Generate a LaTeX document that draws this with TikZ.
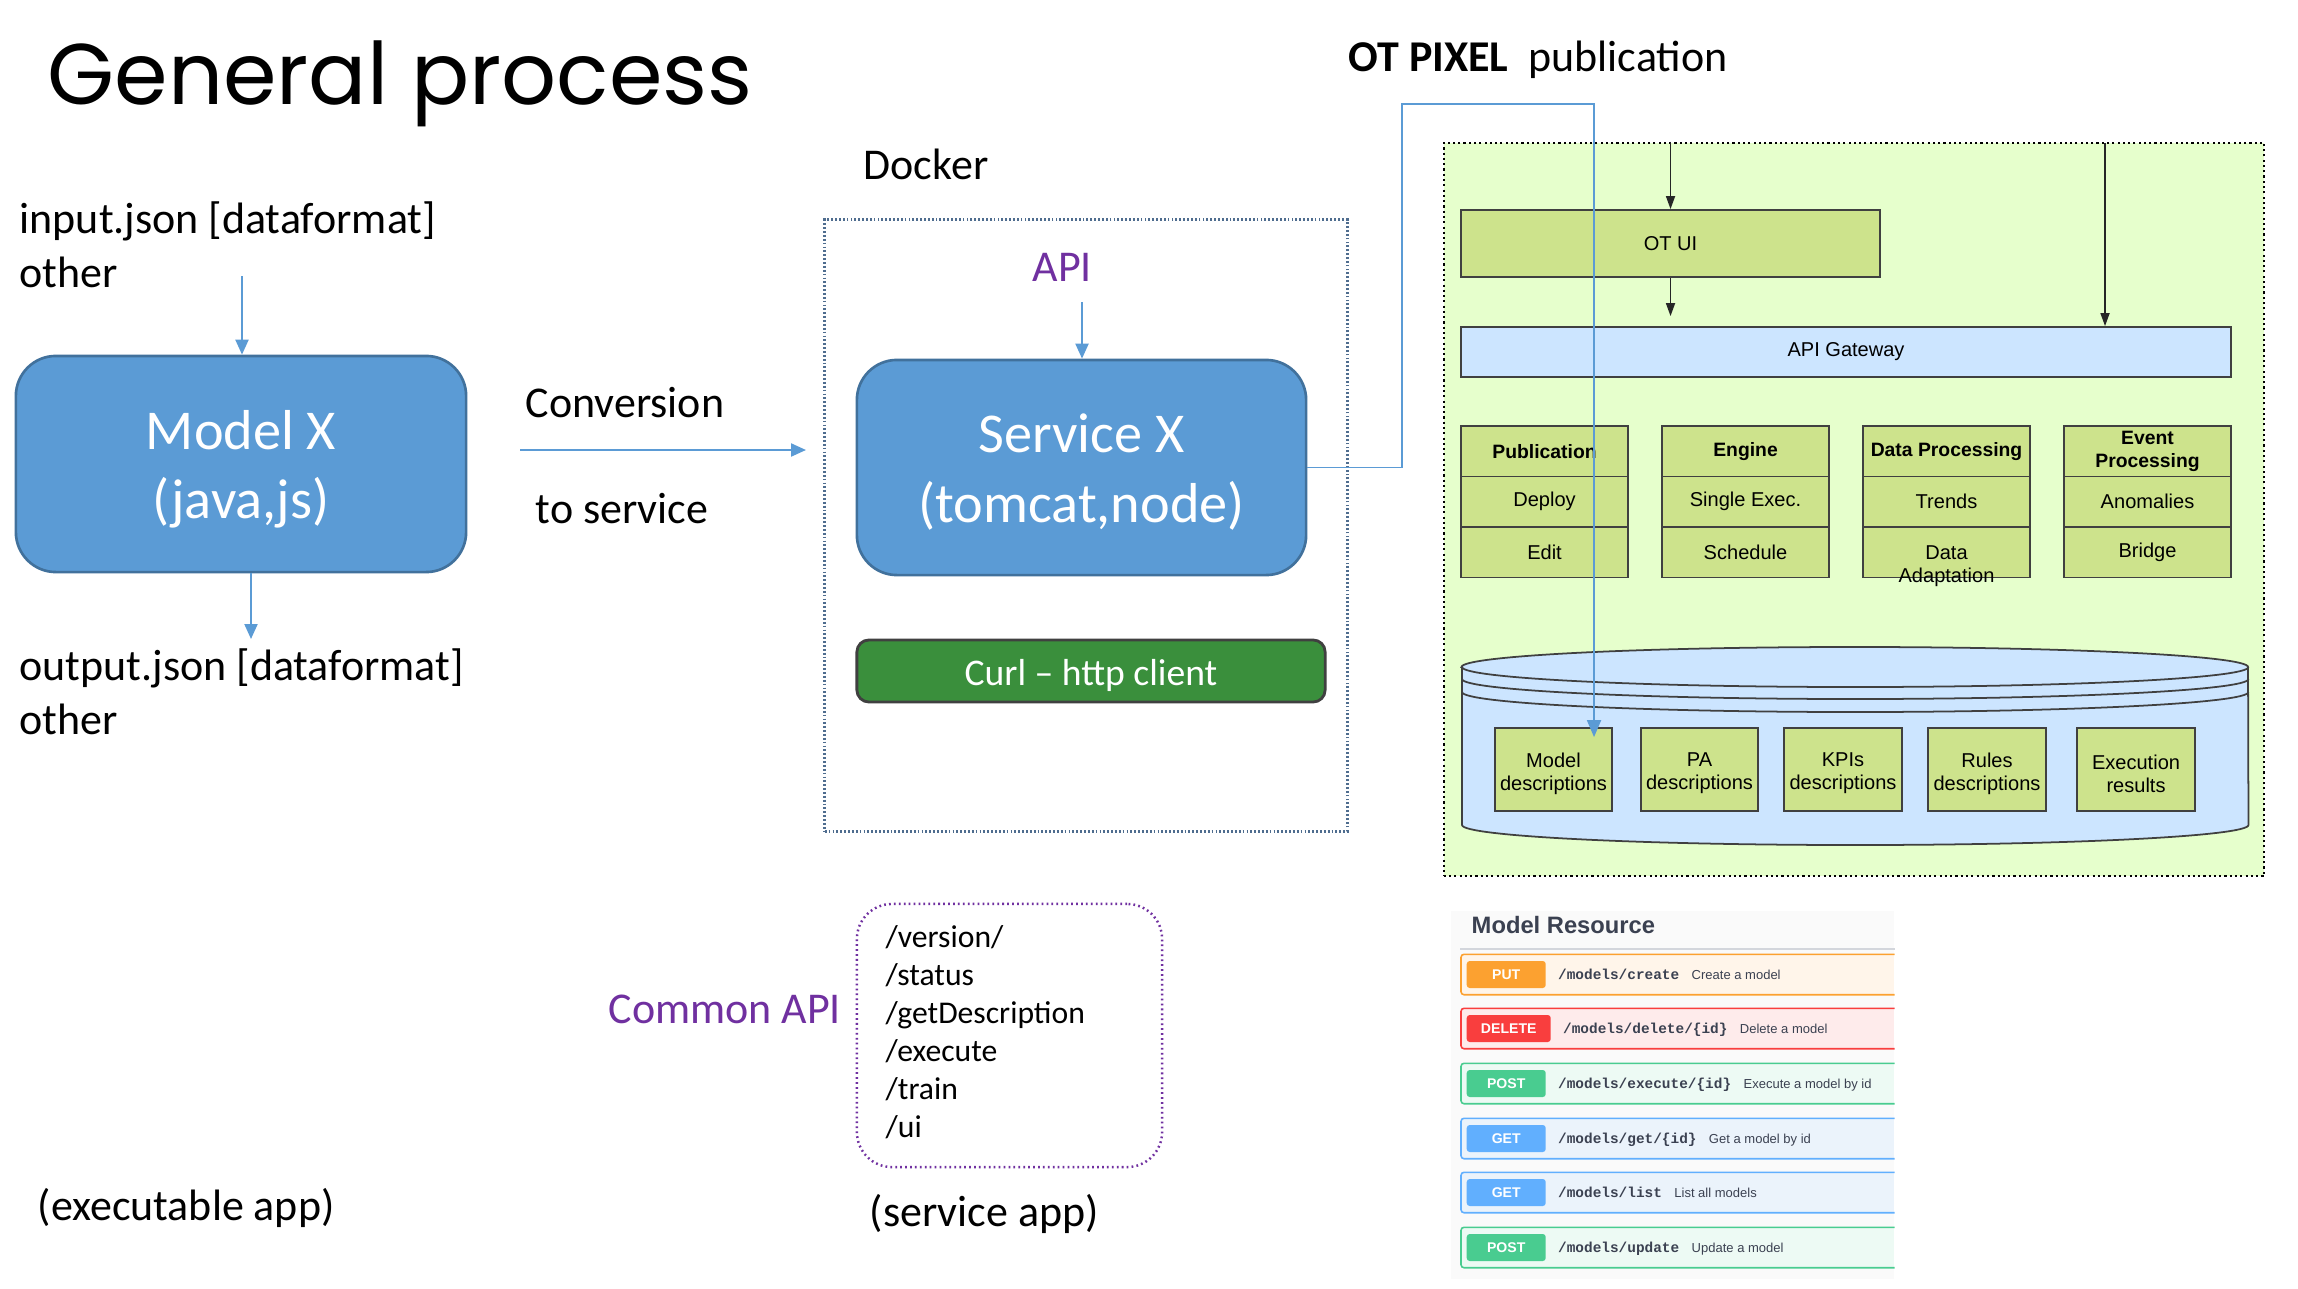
\documentclass[tikz,border=0pt]{standalone}
\usepackage{fontspec}
\setmainfont{Carlito}
\newfontfamily\titlefont{Poppins}
\newfontfamily\arialf{Liberation Sans}
\newfontfamily\monof{Liberation Mono}
\usetikzlibrary{arrows.meta,calc}

\definecolor{boxblue}{HTML}{5B9BD5}
\definecolor{boxedge}{HTML}{41719C}
\definecolor{arrblue}{HTML}{5B9BD5}
\definecolor{purp}{HTML}{7030A0}
\definecolor{curlg}{HTML}{3A8F3C}
\definecolor{dockedge}{HTML}{4F6D8F}
\definecolor{panelg}{HTML}{E6FFCC}
\definecolor{modg}{HTML}{CDE38C}
\definecolor{lblue}{HTML}{CCE5FF}
\definecolor{gline}{HTML}{404040}
\definecolor{swtext}{HTML}{3B4151}
\definecolor{swpanel}{HTML}{FAFAFA}
\definecolor{swline}{HTML}{D3D6DC}
\definecolor{swput}{HTML}{FCA130}
\definecolor{swputbg}{HTML}{FFF5EA}
\definecolor{swdel}{HTML}{F93E3E}
\definecolor{swdelbg}{HTML}{FEEBEB}
\definecolor{swpost}{HTML}{49CC90}
\definecolor{swpostbg}{HTML}{EDFAF4}
\definecolor{swget}{HTML}{61AFFE}
\definecolor{swgetbg}{HTML}{EBF3FB}

\newcommand{\fsMid}{\fontsize{12.5pt}{15.4pt}\selectfont}
\newcommand{\fsBig}{\fontsize{16pt}{19.7pt}\selectfont}
\newcommand{\fsCurl}{\fontsize{10.7pt}{13pt}\selectfont}
\newcommand{\fsList}{\fontsize{9pt}{10.8pt}\selectfont}
\newcommand{\fsSm}{\fontsize{5.7pt}{6.55pt}\selectfont}
\newcommand{\fsSmB}{\fontsize{5.5pt}{6.55pt}\selectfont}
\newcommand{\fsMR}{\fontsize{6.75pt}{8pt}\selectfont}
\newcommand{\fsBadge}{\fontsize{4pt}{5pt}\selectfont}
\newcommand{\fsPath}{\fontsize{4.1pt}{5pt}\selectfont}
\newcommand{\fsDesc}{\fontsize{3.7pt}{4.5pt}\selectfont}
\newcommand{\fsTitle}{\fontsize{24.5pt}{30pt}\selectfont}

% name, y, method, colour, bg colour, path, description, badge width (px)
\newcommand{\swrow}[8]{%
  \node[fill=#5, minimum width=4.32cm, minimum height=0.39cm, inner sep=0pt, anchor=west] (#1) at (1461,#2) {};
  \draw[#4, line width=0.45pt, rounded corners=0.03cm] (#1.north east) -- (#1.north west) -- (#1.south west) -- (#1.south east);
  \node[fill=#4, rounded corners=0.03cm, minimum width=#8*0.01cm, minimum height=0.27cm, inner sep=0pt, text=white, font=\arialf\bfseries\fsBadge, anchor=west] (#1b) at (1466,#2) {#3};
  \node[anchor=base west, inner sep=0pt, font=\monof\bfseries\fsPath, text=swtext] (#1p) at ([xshift=0.11cm,yshift=-0.045cm]#1b.west -| #1b.east) {#6};
  \node[anchor=base west, inner sep=0pt, font=\arialf\fsDesc, text=swtext] (#1d) at ([xshift=0.11cm]#1p.base east) {#7};
}

\begin{document}
\begin{tikzpicture}[x=0.01cm, y=-0.01cm,
  txt/.style={inner sep=0pt, anchor=base west, font=\fsMid, yshift=-0.04cm},
  bluebox/.style={draw=boxedge, line width=0.75pt, fill=boxblue, rounded corners=0.4cm, inner sep=0pt},
  boxtext/.style={inner sep=0pt, text=white, font=\fsBig, align=center},
  barrow/.style={draw=arrblue, line width=0.6pt, -{Triangle[length=0.15cm,width=0.13cm]}},
  karrow/.style={draw=black!85, line width=0.45pt, -{Triangle[length=0.13cm,width=0.09cm]}},
  modcell/.style={draw=gline, line width=0.5pt, fill=modg, inner sep=0pt, minimum width=1.67cm, minimum height=0.505cm, font=\arialf\fsSm, align=center},
  modhead/.style={modcell, font=\arialf\bfseries\fsSmB},
  cylbox/.style={draw=gline, line width=0.5pt, fill=modg, inner sep=0pt, minimum width=1.175cm, minimum height=0.83cm},
  cyltext/.style={inner sep=0pt, font=\arialf\fsSm, align=center},
]
\useasboundingbox[fill=white] (0,0) rectangle (2298,1288);

% ---------- title and left part ----------
\node[inner sep=0pt, anchor=base west, font=\titlefont\fsTitle] (title) at (47,105) {General process};

\node[txt] (in1t) at (19,229) {input.json [dataformat]};
\node[txt] (in2t) at (19,283) {other};
\node[bluebox, minimum width=4.5cm, minimum height=2.16cm] (modelx) at (241,464) {};
\node[boxtext] (modelxt) at ([yshift=-0.05cm]modelx.center) {Model X\\(java,js)};
\node[txt] (out1t) at (19,676) {output.json [dataformat]};
\node[txt] (out2t) at (19,730) {other};

\coordinate (inA) at (242,276);
\draw[barrow] (inA) -- (inA |- modelx.north);
\coordinate (outB) at (251,639);
\draw[barrow] (outB |- modelx.south) -- (outB);

\node[txt] (conv) at (525,413) {Conversion};
\node[txt] (tosrv) at (535,519) {to service};
\coordinate (cv1) at (520,450);
\coordinate (cv2) at (806,450);
\draw[barrow] (cv1) -- (cv2);

\node[txt] (exe) at (37,1216) {(executable app)};

% ---------- docker part ----------
\node[txt] (dock) at (863,175) {Docker};
\node[draw=dockedge, line width=0.8pt, dash pattern=on 0.5pt off 0.6pt, minimum width=5.22cm, minimum height=6.11cm, inner sep=0pt] (docker) at (1086,525.5) {};
\node[txt, text=purp] (apit) at (1032,277) {API};
\node[bluebox, minimum width=4.49cm, minimum height=2.15cm] (servx) at (1081.5,467.5) {};
\node[boxtext] (servxt) at ([yshift=-0.045cm]servx.center) {Service X\\(tomcat,node)};
\coordinate (apiA) at (1082,302);
\draw[barrow] (apiA) -- (apiA |- servx.north);
\node[draw=gline, line width=0.8pt, fill=curlg, rounded corners=0.12cm, minimum width=4.68cm, minimum height=0.62cm, inner sep=0pt] (curl) at (1091,671) {};
\node[inner sep=0pt, text=white, font=\fsCurl] (curlt) at ([yshift=-0.04cm]curl.center) {Curl – http client};

% ---------- common API ----------
\node[txt, text=purp] (capit) at (608,1019) {Common API};
\node[draw=purp, line width=0.7pt, dash pattern=on 0.5pt off 0.9pt, rounded corners=0.35cm, minimum width=3.05cm, minimum height=2.63cm, inner sep=0pt] (capi) at (1009.5,1035.5) {};
\foreach \t [count=\i] in {/version/, /status, /getDescription, /execute, /train, /ui}
  \node[inner sep=0pt, anchor=base west, font=\fsList] (cl\i) at (885,{947+38*(\i-1)}) {\t};
\node[txt] (sapp) at (869,1222) {(service app)};

% ---------- OT PIXEL panel ----------
\node[txt] (otpix) at (1348,68) {\textbf{OT PIXEL}\ \ publication};
\node[draw=black, line width=0.6pt, dash pattern=on 0.6pt off 0.9pt, fill=panelg, minimum width=8.2cm, minimum height=7.33cm, inner sep=0pt] (panel) at (1854,509.5) {};

\node[modcell, minimum width=4.19cm, minimum height=0.67cm] (otui) at (1670.5,243.5) {OT UI};
\node[modcell, fill=lblue, minimum width=7.7cm, minimum height=0.5cm] (gw) at (1846,352) {API Gateway};
\draw[karrow] (otui.north |- panel.north) -- (otui.north);
\draw[karrow, shorten >=0.1cm] (otui.south) -- (otui.south |- gw.north);
\coordinate (tB) at (2105,143);
\draw[karrow] (tB) -- (tB |- gw.north);

\foreach \cx/\n/\a/\b in {1544.5/pub/Deploy/Edit, 1745.5/eng/Single Exec./Schedule, 1946.5/dp/Trends/{}, 2147.5/ep/Anomalies/Bridge}{
  \node[modcell] (\n-a) at (\cx,501.75) {\a};
  \node[modcell] (\n-b) at (\cx,552.25) {\b};
}
\node[modhead] (pub-h) at (1544.5,451.25) {Publication};
\node[modhead] (eng-h) at (1745.5,451.25) {Engine};
\node[modhead] (dp-h) at (1946.5,451.25) {Data Processing};
\node[modhead] (ep-h) at (2147.5,451.25) {Event\\Processing};
\node[inner sep=0pt, font=\arialf\fsSm, align=center] (dpadapt) at (1946.5,566) {Data\\Adaptation};

% cylinder
\filldraw[draw=gline, fill=lblue, line width=0.5pt] (1462,667) -- (1462,825)
  arc[start angle=180, end angle=360, x radius=3.93cm, y radius=0.2cm] -- (2248,667)
  arc[start angle=0, end angle=180, x radius=3.93cm, y radius=0.2cm] -- cycle;
\draw[gline, line width=0.5pt] (1462,667) arc[start angle=180, end angle=360, x radius=3.93cm, y radius=0.2cm];
\draw[gline, line width=0.5pt] (1462,679) arc[start angle=180, end angle=360, x radius=3.93cm, y radius=0.2cm];
\draw[gline, line width=0.5pt] (1462,692) arc[start angle=180, end angle=360, x radius=3.93cm, y radius=0.2cm];

\node[cylbox] (md) at (1553.5,769.5) {};
\node[cylbox] (pad) at (1699.5,769.5) {};
\node[cylbox] (kpid) at (1843,769.5) {};
\node[cylbox] (rud) at (1987,769.5) {};
\node[cylbox] (exr) at (2136,769.5) {};
\node[cyltext] (mdt) at ([yshift=-0.04cm]md.center) {Model\\descriptions};
\node[cyltext] (padt) at ([yshift=-0.04cm]pad.center) {PA\\descriptions};
\node[cyltext] (kpidt) at ([yshift=-0.04cm]kpid.center) {KPIs\\descriptions};
\node[cyltext] (rudt) at ([yshift=-0.04cm]rud.center) {Rules\\descriptions};
\node[cyltext] (exrt) at ([yshift=-0.04cm]exr.center) {Execution\\results};

% connector service -> model descriptions
\coordinate (j1) at (1402,104);
\coordinate (j2) at (1594,104);
\draw[draw=arrblue, line width=0.5pt, -{Triangle[length=0.17cm,width=0.14cm]}, shorten >=-0.1cm]
  (servx.east) -| (j1) -- (j2) -- (j2 |- md.north);

% ---------- Model Resource ----------
\node[fill=swpanel, minimum width=4.43cm, minimum height=3.68cm, inner sep=0pt, anchor=north west] (mrp) at (1450,910) {};
\node[anchor=base west, inner sep=0pt, font=\arialf\bfseries\fsMR, text=swtext] (mrt) at (1471,933) {Model Resource};
\coordinate (sepA) at (1460,949);
\draw[swline, line width=0.5pt] (sepA) -- (sepA -| mrp.east);

\swrow{r1}{974.5}{PUT}{swput}{swputbg}{/models/create}{Create a model}{79}
\swrow{r2}{1028.5}{DELETE}{swdel}{swdelbg}{/models/delete/\{id\}}{Delete a model}{84}
\swrow{r3}{1083.5}{POST}{swpost}{swpostbg}{/models/execute/\{id\}}{Execute a model by id}{79}
\swrow{r4}{1138.5}{GET}{swget}{swgetbg}{/models/get/\{id\}}{Get a model by id}{79}
\swrow{r5}{1192.5}{GET}{swget}{swgetbg}{/models/list}{List all models}{79}
\swrow{r6}{1247.5}{POST}{swpost}{swpostbg}{/models/update}{Update a model}{79}

\end{tikzpicture}
\end{document}
